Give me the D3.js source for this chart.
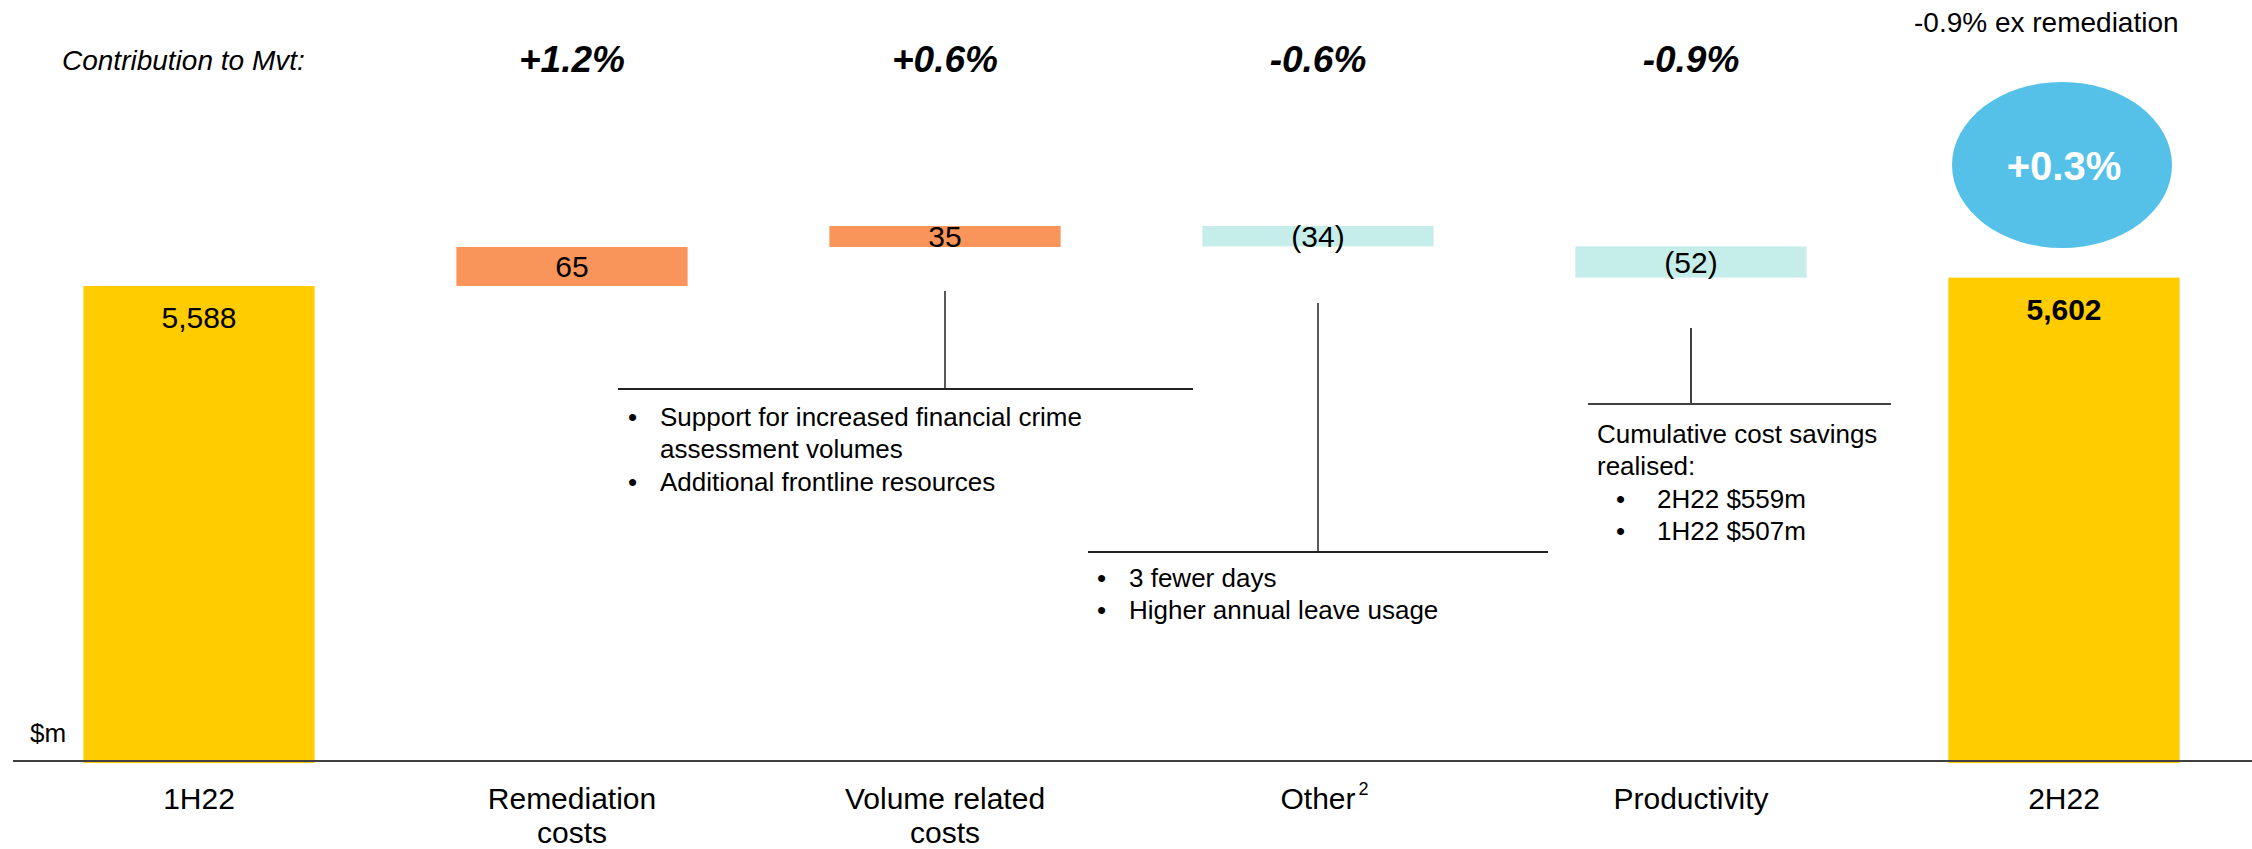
<!DOCTYPE html>
<html>
<head>
<meta charset="utf-8">
<script src="https://cdn.jsdelivr.net/npm/d3@7"></script>
<style>
  html, body { margin: 0; padding: 0; background: #fff; }
  svg { display: block; }
  text { font-family: "Liberation Sans", Arial, Helvetica, sans-serif; fill: #000; }
</style>
</head>
<body>
<svg id="chart" width="2252" height="849"></svg>
<script>
// ---- data ----
const categories = ["1H22", "Remediation costs", "Volume related costs", "Other", "Productivity", "2H22"];
const categoryLines = [["1H22"], ["Remediation", "costs"], ["Volume related", "costs"], ["Other"], ["Productivity"], ["2H22"]];
const categoryNotes = ["", "", "", "2", "", ""];
const values = [5588, 65, 35, -34, -52, 5602];
const barKinds = ["total", "delta", "delta", "delta", "delta", "total"];
const valueLabels = ["5,588", "65", "35", "(34)", "(52)", "5,602"];
const contributions = ["", "+1.2%", "+0.6%", "-0.6%", "-0.9%", ""];
const contributionTitle = "Contribution to Mvt:";
const totalChange = "+0.3%";
const exRemediation = "-0.9% ex remediation";
const unitLabel = "$m";
const annotations = [
  { cat: "Volume related costs", lines: [
      { bullet: true, text: "Support for increased financial crime" },
      { bullet: false, text: "assessment volumes" },
      { bullet: true, text: "Additional frontline resources" } ] },
  { cat: "Other", lines: [
      { bullet: true, text: "3 fewer days" },
      { bullet: true, text: "Higher annual leave usage" } ] },
  { cat: "Productivity", lines: [
      { head: true, text: "Cumulative cost savings" },
      { head: true, text: "realised:" },
      { bullet: true, text: "2H22 $559m" },
      { bullet: true, text: "1H22 $507m" } ] }
];

// ---- layout ----
const svg = d3.select("#chart");
const FONT = "'Liberation Sans', Arial, sans-serif";
const colors = { total: "#FFCC00", up: "#F9955B", down: "#C5EEEA", bubble: "#56C1E8" };

const x = d3.scaleBand().domain(categories).range([12.5, 2250.5]).paddingInner(0.38).paddingOuter(0.19);
const y = d3.scaleLinear().domain([4793, 5700]).range([763, 763 - 907 * 0.6]);
const bw = x.bandwidth();
const cx = c => x(c) + bw / 2;

// waterfall geometry
let cum = 0;
const bars = categories.map((c, i) => {
  let a, b;
  if (barKinds[i] === "total") { a = y.domain()[0]; b = values[i]; cum = values[i]; }
  else { a = cum; b = cum + values[i]; cum = b; }
  return { c, i, a, b, v: values[i], kind: barKinds[i] };
});

// bars
svg.append("g").selectAll("rect").data(bars).join("rect")
  .attr("x", d => x(d.c))
  .attr("width", bw)
  .attr("y", d => y(Math.max(d.a, d.b)))
  .attr("height", d => Math.abs(y(d.a) - y(d.b)))
  .attr("fill", d => d.kind === "total" ? colors.total : (d.v >= 0 ? colors.up : colors.down));

// bar value labels
svg.append("g").selectAll("text").data(bars).join("text")
  .attr("x", d => cx(d.c))
  .attr("y", d => d.kind === "total" ? y(d.b) + 42 : (y(d.a) + y(d.b)) / 2 + 10.5)
  .attr("text-anchor", "middle")
  .attr("font-size", 30)
  .attr("font-weight", d => d.i === categories.length - 1 ? "bold" : "normal")
  .text(d => valueLabels[d.i]);

// axis (category labels)
const axisY = 761;
const axis = d3.axisBottom(x).tickSize(0).tickSizeOuter(0).tickFormat("");
const gAxis = svg.append("g").attr("transform", `translate(0,${axisY})`).call(axis);
gAxis.select(".domain").remove();
gAxis.selectAll(".tick").each(function(c, i) {
  const t = d3.select(this).append("text")
    .attr("text-anchor", "middle")
    .attr("font-size", 30)
    .attr("font-family", FONT)
    .attr("fill", "#000")
    .attr("y", 48);
  categoryLines[i].forEach((ln, k) => {
    t.append("tspan").attr("x", 0).attr("dy", k === 0 ? 0 : 34).text(ln);
  });
  if (categoryNotes[i]) {
    const w = t.node().getComputedTextLength();
    d3.select(this).append("text")
      .attr("x", w / 2 + 8).attr("y", 34)
      .attr("font-size", 18).attr("font-family", FONT).attr("fill", "#000")
      .text(categoryNotes[i]);
  }
});
svg.append("line")
  .attr("x1", 13).attr("x2", 2252).attr("y1", axisY).attr("y2", axisY)
  .attr("stroke", "#404040").attr("stroke-width", 2);

// unit label
svg.append("text").attr("x", 30).attr("y", 742).attr("font-size", 26).text(unitLabel);

// contribution row
svg.append("text").attr("x", 62).attr("y", 70).attr("font-size", 28)
  .attr("font-style", "italic").text(contributionTitle);
svg.append("g").selectAll("text").data(categories).join("text")
  .attr("x", c => cx(c))
  .attr("y", 72)
  .attr("text-anchor", "middle")
  .attr("font-size", 37)
  .attr("font-weight", "bold")
  .attr("font-style", "italic")
  .text((c, i) => contributions[i]);

// total change bubble
const lastC = categories[categories.length - 1];
svg.append("ellipse").attr("cx", cx(lastC) - 2).attr("cy", 165).attr("rx", 110).attr("ry", 83)
  .attr("fill", colors.bubble);
svg.append("text").attr("x", cx(lastC)).attr("y", 180).attr("text-anchor", "middle")
  .attr("font-size", 40).attr("font-weight", "bold").style("fill", "#fff").text(totalChange);
svg.append("text").attr("x", 1914).attr("y", 32).attr("font-size", 28).text(exRemediation);

// annotations
const annoGeom = [
  { top: 291, bottom: 389, left: 618, right: 1193, tx: 628, textX: 660, first: 426, stroke: "#222", sw: 1.5 },
  { top: 303, bottom: 552, left: 1088, right: 1548, tx: 1097, textX: 1129, first: 587, stroke: "#222", sw: 1.5 },
  { top: 328, bottom: 404, left: 1588, right: 1891, tx: 1616, textX: 1657, first: 443, headX: 1597, stroke: "#404040", sw: 2 }
];
annotations.forEach((an, k) => {
  const g = annoGeom[k];
  const ax = cx(an.cat);
  const grp = svg.append("g");
  grp.append("line").attr("x1", ax).attr("x2", ax).attr("y1", g.top).attr("y2", g.bottom)
    .attr("stroke", g.stroke).attr("stroke-width", g.sw);
  grp.append("line").attr("x1", g.left).attr("x2", g.right).attr("y1", g.bottom).attr("y2", g.bottom)
    .attr("stroke", g.stroke).attr("stroke-width", 2);
  an.lines.forEach((ln, j) => {
    const by = g.first + j * 32.3;
    if (ln.bullet) {
      grp.append("text").attr("x", g.tx).attr("y", by).attr("font-size", 26).text("\u2022");
    }
    grp.append("text").attr("x", ln.head ? g.headX : g.textX).attr("y", by)
      .attr("font-size", 26).text(ln.text);
  });
});
</script>
</body>
</html>
